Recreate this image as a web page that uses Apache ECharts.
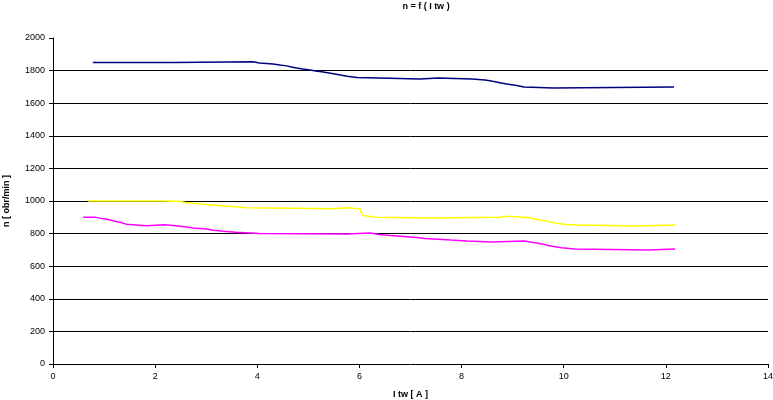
<!DOCTYPE html>
<html><head><meta charset="utf-8">
<script src="https://cdn.jsdelivr.net/npm/echarts@6/dist/echarts.min.js"></script>
<style>html,body{margin:0;padding:0;background:#fff}#c{width:773px;height:400px}</style>
</head><body><div id="c"></div>
<script>
var xTicks = [0, 2, 4, 6, 8, 10, 12, 14];
var yTicks = [0, 200, 400, 600, 800, 1000, 1200, 1400, 1600, 1800, 2000];

var blueX = [0.78, 2.39, 3.92, 4.04, 4.31, 4.44, 4.58, 4.67, 4.77, 4.89, 5.03, 5.15, 5.29, 5.41, 5.52, 5.65, 5.76, 5.95, 7.19, 7.54, 8.20, 8.46, 8.61, 8.75, 8.88, 9.08, 9.22, 9.80, 12.16];
var blueY = [1849, 1854, 1847, 1841, 1835, 1829, 1822, 1816, 1810, 1804, 1798, 1792, 1785, 1779, 1771, 1765, 1757, 1749, 1755, 1749, 1743, 1734, 1726, 1718, 1708, 1700, 1693, 1700, 1700];

var yellowX = [0.69, 2.19, 2.49, 2.62, 2.85, 3.04, 3.32, 3.58, 3.79, 5.52, 5.76, 6.01, 6.04, 6.07, 6.11, 6.31, 7.42, 8.75, 8.86, 9.24, 9.37, 9.47, 9.60, 9.73, 9.85, 10.04, 10.32, 11.42, 12.18];
var yellowY = [1000, 997, 989, 983, 977, 971, 964, 958, 952, 958, 952, 940, 925, 910, 901, 895, 901, 907, 901, 895, 887, 881, 872, 864, 856, 852, 846, 852, 852];

var magentaX = [0.59, 0.82, 0.91, 1.02, 1.12, 1.19, 1.33, 1.43, 1.83, 2.19, 2.39, 2.62, 2.74, 3.01, 3.14, 3.33, 3.58, 4.04, 5.76, 6.21, 6.39, 6.60, 6.86, 7.13, 7.27, 7.54, 7.79, 8.11, 8.60, 9.23, 9.34, 9.47, 9.60, 9.70, 9.80, 9.96, 10.21, 11.66, 12.18];
var magentaY = [901, 895, 889, 883, 877, 868, 858, 848, 854, 848, 840, 834, 828, 821, 815, 809, 801, 797, 803, 795, 788, 782, 776, 770, 766, 760, 754, 748, 754, 748, 742, 735, 727, 721, 713, 706, 700, 706, 706];

function zip(xs, ys) { return xs.map(function (x, i) { return [x, ys[i]]; }); }

var chart = echarts.init(document.getElementById('c'));
var font = 'Liberation Sans, Arial, sans-serif';
chart.setOption({
  backgroundColor: '#fff',
  animation: false,
  title: {
    text: 'n = f ( I tw )',
    left: 421, top: -3, textAlign: 'center',
    textStyle: { fontFamily: font, fontSize: 9, fontWeight: 'bold', color: '#000' }
  },
  grid: { left: 53, right: 5, top: 38, bottom: 36, containLabel: false, outerBoundsMode: 'none' },
  xAxis: {
    type: 'value', min: xTicks[0], max: xTicks[xTicks.length - 1], interval: 2,
    name: 'I tw [ A ]', nameLocation: 'middle', nameGap: 26,
    nameTextStyle: { fontFamily: font, fontSize: 9, fontWeight: 'bold', color: '#000' },
    axisLine: { lineStyle: { color: '#000', width: 1 } },
    axisTick: { show: true, length: 4, inside: false, lineStyle: { color: '#000' } },
    axisLabel: { fontFamily: font, fontSize: 9, color: '#000', margin: 8, formatter: function (v) { return String(v); } },
    splitLine: { show: false }
  },
  yAxis: {
    type: 'value', min: yTicks[0], max: yTicks[yTicks.length - 1], interval: 200,
    name: 'n [ obr/min ]', nameLocation: 'middle', nameGap: 42, nameRotate: 90,
    nameTextStyle: { fontFamily: font, fontSize: 9, fontWeight: 'bold', color: '#000' },
    axisLine: { show: true, lineStyle: { color: '#000', width: 1 } },
    axisTick: { show: true, length: 4, lineStyle: { color: '#000' } },
    axisLabel: { fontFamily: font, fontSize: 9, color: '#000', margin: 8, formatter: function (v) { return String(v); } },
    splitLine: { show: true, showMaxLine: false, showMinLine: false, lineStyle: { color: '#000', width: 1 } }
  },
  series: [
    { type: 'line', step: 'end', data: zip(blueX, blueY), showSymbol: false, lineStyle: { color: '#000080', width: 1.5 }, itemStyle: { color: '#000080' } },
    { type: 'line', step: 'end', data: zip(yellowX, yellowY), showSymbol: false, lineStyle: { color: '#FFFF00', width: 1.5 }, itemStyle: { color: '#FFFF00' } },
    { type: 'line', step: 'end', data: zip(magentaX, magentaY), showSymbol: false, lineStyle: { color: '#FF00FF', width: 1.5 }, itemStyle: { color: '#FF00FF' } }
  ]
});
</script></body></html>
